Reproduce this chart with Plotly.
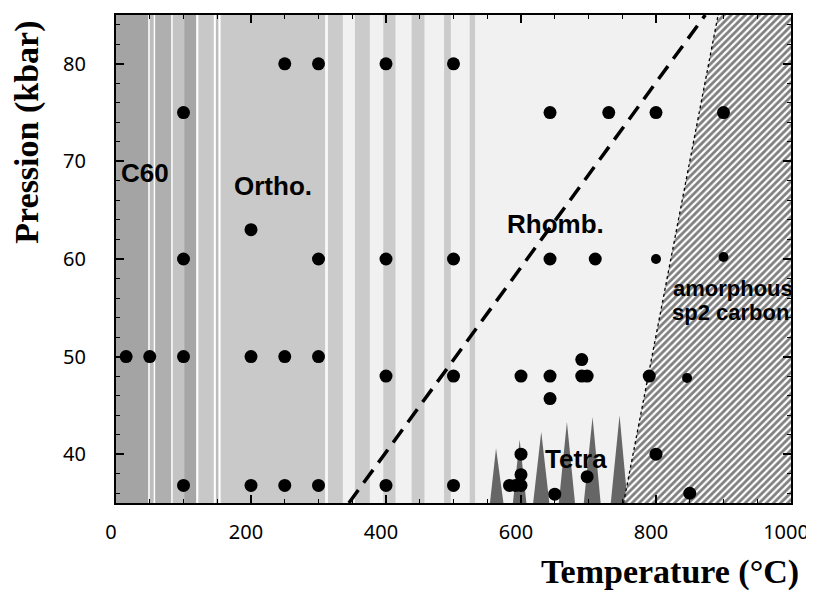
import plotly.graph_objects as go

# ---------------- data ----------------
# experimental points (Temperature °C, Pressure kbar)
dot_T = [250, 300, 400, 500,
         100, 643, 730, 800, 900,
         200,
         100, 300, 400, 500, 643, 710,
         15, 50, 100, 200, 250, 300, 690,
         400, 500, 600, 643, 690, 698, 790,
         643,
         600, 800,
         600, 698,
         100, 200, 250, 300, 400, 500, 583, 592, 600,
         650, 850]
dot_P = [80, 80, 80, 80,
         75, 75, 75, 75, 75,
         63,
         60, 60, 60, 60, 60, 60,
         50, 50, 50, 50, 50, 50, 49.7,
         48, 48, 48, 48, 48, 48, 48,
         45.7,
         40, 40,
         37.9, 37.7,
         36.8, 36.8, 36.8, 36.8, 36.8, 36.8, 36.8, 36.8, 36.8,
         35.9, 36]
small_T = [800, 846, 900]
small_P = [60, 47.8, 60.2]

# dashed Ortho/Rhomb boundary
rhomb_T = [345, 873]
rhomb_P = [35, 85]

# amorphous sp2 carbon region boundary
amorph_T = [752, 892, 1000, 1000]
amorph_P = [35, 85, 85, 35]

# Tetra spikes (left base, apex, right base, apex pressure)
tetra_left = [554, 588, 618, 656, 693, 733]
tetra_apex = [563, 598, 630, 668, 706, 746]
tetra_right = [574, 608, 642, 680, 718, 758]
tetra_top = [40.6, 41.5, 42.3, 43.3, 43.8, 44.0]

# background bands (start °C, end °C, grey)
band_start = [0, 48, 50, 56, 58, 82, 84, 101, 119, 122, 145, 148, 152, 155,
              310, 314, 354, 396, 438, 486, 524]
band_end = [48, 50, 56, 58, 82, 84, 101, 119, 122, 145, 148, 152, 155, 310,
            314, 336, 376, 414, 457, 496, 532]
band_grey = ['#a4a4a4', '#ffffff', '#bdbdbd', '#ffffff', '#afafaf', '#ffffff',
             '#c4c4c4', '#a6a6a6', '#ffffff', '#c8c8c8', '#ffffff', '#bcbcbc',
             '#ffffff', '#c9c9c9', '#f7f7f7', '#cbcbcb', '#cbcbcb', '#cbcbcb',
             '#cbcbcb', '#cbcbcb', '#cbcbcb']

x_ticks = [0, 200, 400, 600, 800, 1000]
y_ticks = [40, 50, 60, 70, 80]

# ---------------- figure ----------------
fig = go.Figure()

shapes = []
for a, b, c in zip(band_start, band_end, band_grey):
    shapes.append(dict(type='rect', xref='x', yref='paper', x0=a, x1=b, y0=0, y1=1,
                       fillcolor=c, line=dict(width=0), layer='below'))

# Tetra spikes
for l, m, r, t in zip(tetra_left, tetra_apex, tetra_right, tetra_top):
    fig.add_trace(go.Scatter(x=[l, m, r, l], y=[35, t, 35, 35], mode='lines',
                             fill='toself', fillcolor='#666666',
                             line=dict(width=0), hoverinfo='skip', showlegend=False))

# amorphous hatched region
fig.add_trace(go.Scatter(x=amorph_T + [amorph_T[0]], y=amorph_P + [amorph_P[0]],
                         mode='lines', fill='toself',
                         fillcolor='white',
                         fillpattern=dict(shape='/', size=5, solidity=0.55,
                                          fgcolor='black', bgcolor='white'),
                         line=dict(width=0), hoverinfo='skip', showlegend=False))
fig.add_trace(go.Scatter(x=amorph_T[:2], y=amorph_P[:2], mode='lines',
                         line=dict(color='black', width=1.3, dash='dot'),
                         hoverinfo='skip', showlegend=False))

# dashed boundary
fig.add_trace(go.Scatter(x=rhomb_T, y=rhomb_P, mode='lines',
                         line=dict(color='black', width=3.5, dash='16px,9px'),
                         hoverinfo='skip', showlegend=False))

# points
fig.add_trace(go.Scatter(x=dot_T, y=dot_P, mode='markers',
                         marker=dict(color='black', size=13, line=dict(width=0)),
                         showlegend=False))
fig.add_trace(go.Scatter(x=small_T, y=small_P, mode='markers',
                         marker=dict(color='black', size=10, line=dict(width=0)),
                         showlegend=False))

lab_font = dict(family='Liberation Sans', size=26, color='black', weight='bold')
small_font = dict(family='Liberation Sans', size=22, color='black', weight='bold')
ann = [
    dict(x=5, y=68.8, text='C60', xanchor='left', font=lab_font),
    dict(x=232, y=67.5, text='Ortho.', font=lab_font),
    dict(x=651, y=63.6, text='Rhomb.', font=lab_font),
    dict(x=681, y=39.5, text='Tetra', font=lab_font),
    dict(x=914, y=57.0, text='amorphous', font=small_font),
    dict(x=911, y=54.5, text='sp2 carbon', font=small_font),
]
for a in ann:
    a.update(xref='x', yref='y', showarrow=False, yanchor='middle')
    a.setdefault('xanchor', 'center')

title_font = dict(family='Liberation Serif', size=34, color='black', weight='bold')
ann.append(dict(xref='paper', yref='paper', x=-0.131, y=0.76, text='Pression (kbar)',
                textangle=-90, showarrow=False, xanchor='center', yanchor='middle',
                font=title_font))
ann.append(dict(xref='paper', yref='paper', x=0.82, y=-0.141, text='Temperature (°C)',
                showarrow=False, xanchor='center', yanchor='middle', font=title_font))

fig.update_layout(
    width=806, height=585,
    margin=dict(l=108, r=17, t=5, b=90),
    paper_bgcolor='white', plot_bgcolor='#f1f1f1',
    shapes=shapes, annotations=ann,
    showlegend=False,
)
axis_common = dict(showgrid=False, zeroline=False, showline=True, linecolor='black',
                   linewidth=2, mirror='ticks', ticks='inside', tickcolor='black',
                   tickwidth=1.5, ticklen=8, ticklabeloverflow='allow',
                   tickfont=dict(family='Noto Sans', size=20, color='black'))
fig.update_xaxes(range=[0, 1000], tickvals=x_ticks, ticktext=[str(v) for v in x_ticks],
                 minor=dict(dtick=50, tick0=0, ticks='inside', ticklen=4,
                            tickcolor='black', tickwidth=1.2),
                 ticklabelstandoff=10, ticklabelshift=-5, **axis_common)
fig.update_yaxes(range=[35, 85], tickvals=y_ticks, ticktext=[str(v) for v in y_ticks],
                 minor=dict(dtick=2, tick0=0, ticks='inside', ticklen=4,
                            tickcolor='black', tickwidth=1.2),
                 ticklabelstandoff=24, **axis_common)

fig.write_html('out.html')
